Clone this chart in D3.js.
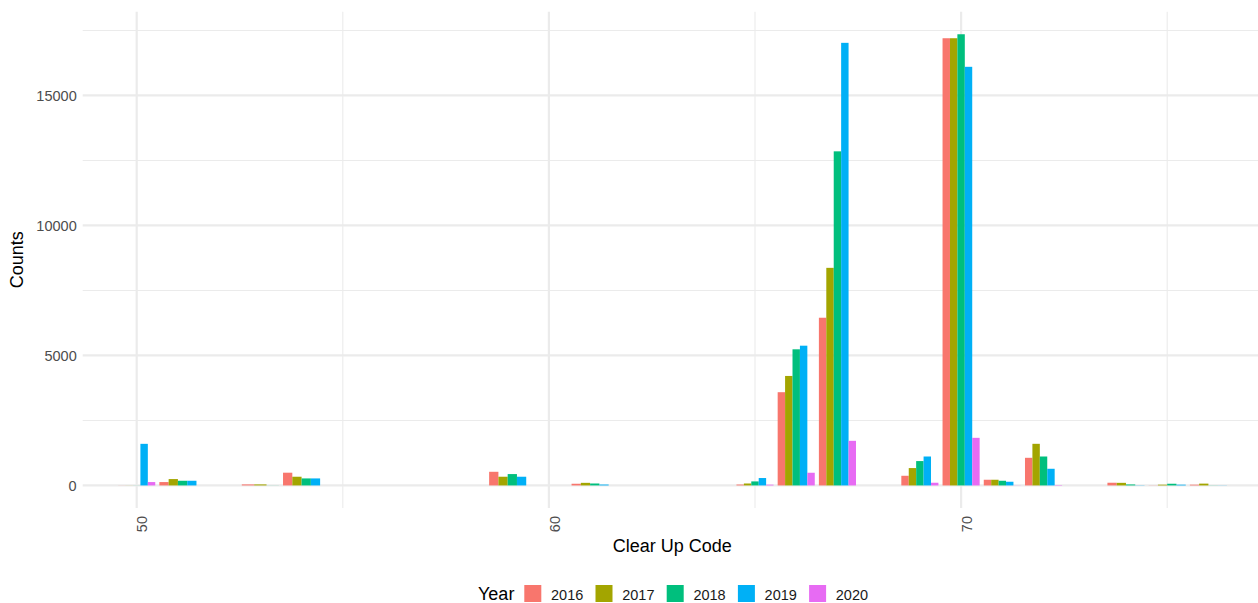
<!DOCTYPE html>
<html>
<head>
<meta charset="utf-8">
<script src="https://cdn.jsdelivr.net/npm/d3@7"></script>
<style>
  html, body { margin: 0; padding: 0; background: #fff; }
  svg { display: block; font-family: "Liberation Sans", Arial, Helvetica, sans-serif; }
</style>
</head>
<body>
<svg id="chart" width="1258" height="603"></svg>
<script>
// ---- data ----
const codes = [50, 51, 53, 54, 59, 61, 65, 66, 67, 69, 70, 71, 72, 74, 75, 76];
const years = ["2016", "2017", "2018", "2019", "2020"];
const counts2016 = [3, 130, 40, 490, 525, 65, 35, 3586, 6450, 372, 17200, 219, 1063, 104, 5, 30];
const counts2017 = [3, 245, 40, 335, 335, 100, 75, 4211, 8369, 668, 17200, 219, 1601, 100, 30, 70];
const counts2018 = [3, 180, 3, 270, 437, 75, 155, 5236, 12850, 937, 17353, 180, 1113, 38, 65, 5];
const counts2019 = [1600, 180, null, 270, 335, 35, 285, 5375, 17023, 1113, 16101, 142, 641, 8, 30, 5];
const counts2020 = [130, null, null, null, null, null, 30, 488, 1716, 104, 1831, 5, 15, null, null, null];
const yTicks = [0, 5000, 10000, 15000];
const yMinor = [2500, 7500, 12500, 17500];
const xTicks = [50, 60, 70];
const xMinor = [55, 65, 75];
const colors = ["#F8766D", "#A3A500", "#00BF7D", "#00B0F6", "#E76BF3"];

const series = [counts2016, counts2017, counts2018, counts2019, counts2020];

// ---- layout ----
const svg = d3.select("#chart");
const panel = { left: 82.7, right: 1262, top: 11.7, bottom: 508 };

const x = d3.scaleLinear().domain([48.69, 77.30]).range([panel.left, panel.right]);
const maxV = d3.max(series.flat().filter(v => v != null));
const y = d3.scaleLinear().domain([-0.05 * maxV, 1.05 * maxV]).range([panel.bottom, panel.top]);
const color = d3.scaleOrdinal().domain(years).range(colors);

const grid = svg.append("g");
// minor grid
grid.selectAll(".ym").data(yMinor).join("line")
  .attr("x1", panel.left).attr("x2", panel.right)
  .attr("y1", d => y(d)).attr("y2", d => y(d))
  .attr("stroke", "#EBEBEB").attr("stroke-width", 1.1);
grid.selectAll(".xm").data(xMinor).join("line")
  .attr("y1", panel.top).attr("y2", panel.bottom)
  .attr("x1", d => x(d)).attr("x2", d => x(d))
  .attr("stroke", "#EBEBEB").attr("stroke-width", 1.1);
// major grid
grid.selectAll(".yM").data(yTicks).join("line")
  .attr("x1", panel.left).attr("x2", panel.right)
  .attr("y1", d => y(d)).attr("y2", d => y(d))
  .attr("stroke", "#EBEBEB").attr("stroke-width", 2.2);
grid.selectAll(".xM").data(xTicks).join("line")
  .attr("y1", panel.top).attr("y2", panel.bottom)
  .attr("x1", d => x(d)).attr("x2", d => x(d))
  .attr("stroke", "#EBEBEB").attr("stroke-width", 2.2);

// ---- bars (dodged; width shared among present years) ----
const bars = [];
codes.forEach((c, i) => {
  const present = years.filter((yr, k) => series[k][i] != null);
  const band = d3.scaleBand().domain(present).range([x(c - 0.45), x(c + 0.45)]).padding(0);
  present.forEach(yr => {
    const k = years.indexOf(yr);
    bars.push({ code: c, year: yr, value: series[k][i], x0: band(yr), w: band.bandwidth() });
  });
});
svg.append("g").selectAll("rect").data(bars).join("rect")
  .attr("x", d => d.x0)
  .attr("width", d => d.w)
  .attr("y", d => y(Math.max(0, d.value)))
  .attr("height", d => Math.abs(y(0) - y(d.value)))
  .attr("fill", d => color(d.year));

// ---- axes labels ----
const yAxis = d3.axisLeft(y).tickValues(yTicks).tickSize(0).tickPadding(6).tickFormat(d3.format("d"));
const gy = svg.append("g").attr("transform", `translate(${panel.left},0)`).call(yAxis);
gy.select(".domain").remove();
gy.selectAll("text").attr("fill", "#4D4D4D").style("font-size", "14.5px")
  .attr("font-family", "Liberation Sans, Arial, sans-serif");

const xAxis = d3.axisBottom(x).tickValues(xTicks).tickSize(0).tickFormat(d3.format("d"));
const gx = svg.append("g").attr("transform", `translate(0,${panel.bottom})`).call(xAxis);
gx.select(".domain").remove();
gx.selectAll("text")
  .attr("fill", "#4D4D4D").style("font-size", "14.5px")
  .attr("font-family", "Liberation Sans, Arial, sans-serif")
  .attr("text-anchor", "end")
  .attr("transform", "translate(0,8) rotate(-90)")
  .attr("x", 0).attr("y", 0).attr("dy", "0.71em");

// axis titles
svg.append("text")
  .attr("x", (panel.left + panel.right) / 2).attr("y", 552)
  .attr("text-anchor", "middle").style("font-size", "18px").attr("fill", "#000")
  .text("Clear Up Code");
svg.append("text")
  .attr("transform", `translate(23,${(panel.top + panel.bottom) / 2}) rotate(-90)`)
  .attr("text-anchor", "middle").style("font-size", "18px").attr("fill", "#000")
  .text("Counts");

// ---- legend ----
const leg = svg.append("g");
leg.append("text").attr("x", 478).attr("y", 599.5).style("font-size", "18px").attr("fill", "#000").text("Year");
const lx = d3.scaleBand().domain(years).range([524.3, 524.3 + 5 * 71.2]);
leg.selectAll("rect").data(years).join("rect")
  .attr("x", d => lx(d)).attr("y", 585).attr("width", 17).attr("height", 17)
  .attr("fill", d => color(d));
leg.selectAll("text.lab").data(years).join("text").attr("class", "lab")
  .attr("x", d => lx(d) + 26.7).attr("y", 599.5)
  .style("font-size", "14.5px").attr("fill", "#1a1a1a")
  .text(d => d);
</script>
</body>
</html>
